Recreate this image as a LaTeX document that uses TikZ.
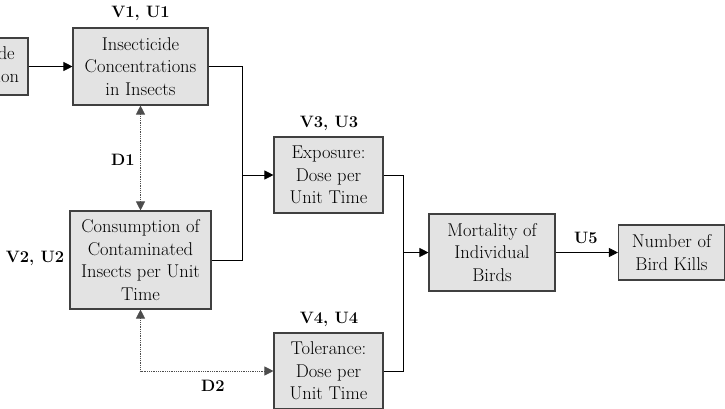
\documentclass[tikz,border=0pt]{standalone}
\usepackage{xcolor}
\usepackage{amsmath}
\usepackage{tikz}
\usetikzlibrary{arrows.meta}

\begin{document}
\begin{tikzpicture}[x=1pt,y=-1pt,
    box/.style={draw=black!75, line width=1.1pt, fill=gray!22, align=center,
        inner sep=0pt, font=\fontsize{18.5}{22.5}\selectfont},
    lbl/.style={draw=none, font=\fontsize{16.5}{20}\selectfont\bfseries},
    link/.style={line width=0.8pt, -{Triangle[length=9pt,width=9pt]}},
    dlink/.style={black!70, line width=0.8pt, densely dotted,
        {Triangle[length=9pt,width=9pt]}-{Triangle[length=9pt,width=9pt]}}]
             \useasboundingbox (0,0) rectangle (725,408);
             \clip (0,0) rectangle (725,408);

             \node[box, minimum width=104, minimum height=57] (app) at (-24, 66.5) {Insecticide\\Application};
             \node[box, minimum width=135, minimum height=77] (conc) at (140.5, 66.5) {Insecticide\\Concentrations\\in Insects};
             \node[box, minimum width=141, minimum height=98] (cons) at (140.5, 260) {Consumption of\\Contaminated\\Insects per Unit\\Time};
             \node[box, minimum width=109, minimum height=76] (expo) at (328.5, 175) {Exposure:\\Dose per\\Unit Time};
             \node[box, minimum width=109, minimum height=76] (tol) at (328.5, 371) {Tolerance:\\Dose per\\Unit Time};
             \node[box, minimum width=126, minimum height=77] (mort) at (492, 252.5) {Mortality of\\Individual\\Birds};
             \node[box, minimum width=106, minimum height=55] (kills) at (671.5, 252.5) {Number of\\Bird Kills};

             \node[lbl] (v1) at (140.5, 13) {V1, U1};
             \node[lbl] (v2) at (35, 258) {V2, U2};
             \node[lbl] (v3) at (329, 123) {V3, U3};
             \node[lbl] (v4) at (329, 319) {V4, U4};
             \node[lbl] (d1) at (123, 160) {D1};
             \node[lbl] (d2) at (213, 386) {D2};
             \node[lbl] (u5) at (586, 238) {U5};

             \coordinate (j1) at (242, 175);
             \coordinate (j2) at (403, 252.5);

             \draw[link] (app) -- (conc);
             \draw[line width=0.8pt] (conc.east) -| (j1);
             \draw[line width=0.8pt] (cons.east) -| (j1);
             \draw[link] (j1) -- (expo.west);
             \draw[line width=0.8pt] (expo.east) -| (j2);
             \draw[line width=0.8pt] (tol.east) -| (j2);
             \draw[link] (j2) -- (mort.west);
             \draw[link] (mort) -- (kills);

             \draw[dlink] (cons.north) -- (conc.south);
             \draw[dlink] (cons.south) |- (tol.west);
             \end{tikzpicture}
\end{document}
